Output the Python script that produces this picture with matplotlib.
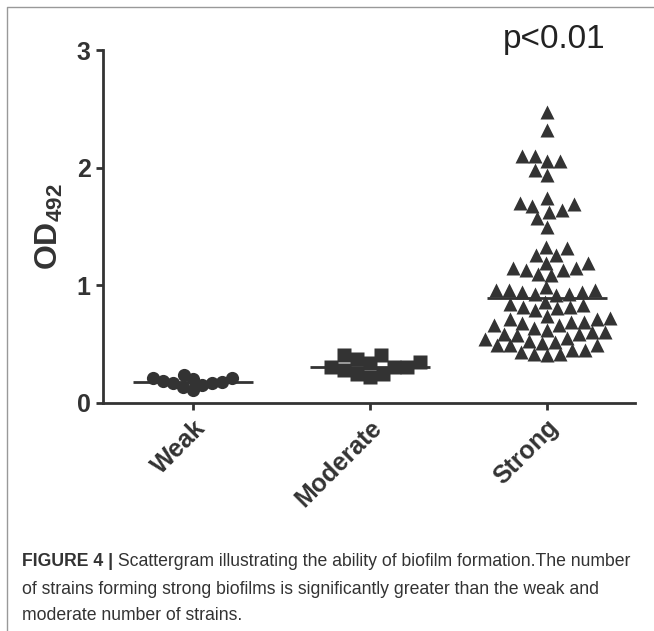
import numpy as np
import matplotlib
matplotlib.use("Agg")
import matplotlib.pyplot as plt
from matplotlib.lines import Line2D

# valeurs (DO492)
groups = ["Weak", "Moderate", "Strong"]
weak = [0.18, 0.24, 0.17, 0.21, 0.11, 0.20, 0.17, 0.21, 0.15, 0.14, 0.19]
moderate = [0.35, 0.31, 0.41, 0.25, 0.31, 0.41, 0.22, 0.31, 0.25, 0.34, 0.37, 0.28]
strong = [2.47, 2.32, 2.06, 2.10, 2.06, 2.10, 1.98, 1.94, 1.74, 1.64, 1.69, 1.70,
          1.62, 1.67, 1.57, 1.50, 1.32, 1.33, 1.26, 1.26, 1.13, 1.15, 1.19, 1.15,
          1.19, 1.13, 1.09, 1.10,
          0.99, 0.96, 0.96, 0.96, 0.94, 0.94, 0.93, 0.93, 0.92,
          0.86, 0.84, 0.82, 0.82, 0.81, 0.83, 0.79,
          0.74, 0.72, 0.71, 0.71, 0.69, 0.69, 0.68, 0.66, 0.66,
          0.64, 0.62, 0.60, 0.60, 0.59, 0.59, 0.58,
          0.55, 0.54, 0.53, 0.52, 0.51, 0.49, 0.49, 0.49,
          0.45, 0.45, 0.43, 0.42, 0.42, 0.41]
yticks = [0, 1, 2, 3]
p_text = "p<0.01"
caption_bold = "FIGURE 4 |"
caption_lines = [" Scattergram illustrating the ability of biofilm formation.The number",
                 "of strains forming strong biofilms is significantly greater than the weak and",
                 "moderate number of strains."]

dark = "#333333"
plt.rcParams["font.family"] = ["Liberation Sans", "DejaVu Sans"]
plt.rcParams["mathtext.fontset"] = "custom"
plt.rcParams["mathtext.bf"] = "Liberation Sans:bold"
plt.rcParams["mathtext.rm"] = "Liberation Sans:bold"


def swarm(ax, xc, vals, gap):
    """répartition horizontale des points (pas de chevauchement > gap pixels)"""
    pts = ax.transData.transform(np.column_stack([np.full(len(vals), xc), vals]))
    cx = pts[0, 0]
    ys = pts[:, 1]
    xs = np.full(len(vals), cx)
    placed = []
    cand = sorted(range(-90, 91), key=lambda d: (abs(d), d))
    for i in np.argsort(ys):
        for d in cand:
            if all((cx + d - px) ** 2 + (ys[i] - py) ** 2 >= gap ** 2 for px, py in placed):
                break
        xs[i] = cx + d
        placed.append((xs[i], ys[i]))
    return ax.transData.inverted().transform(np.column_stack([xs, ys]))[:, 0]


W, H = 654, 631
fig = plt.figure(figsize=(W / 100, H / 100), dpi=100)
ax = fig.add_axes([103 / W, 1 - 403 / H, (635 - 103) / W, (403 - 50) / H])
ax.set_xlim(0.49, 3.5)
ax.set_ylim(0, 3)

series = [(weak, "o", 9.5, 10), (moderate, "s", 10, 13), (strong, "^", 10, 12.5)]
for k, (vals, mk, ms, gap) in enumerate(series):
    xc = k + 1
    xs = swarm(ax, xc, vals, gap)
    ax.plot(xs, vals, linestyle="none", marker=mk, ms=ms, color=dark, mec="none", zorder=2, clip_on=False)
    med = np.median(vals)
    ax.plot([xc - 0.34, xc + 0.34], [med, med], color=dark, lw=2, zorder=3, solid_capstyle="butt")

for s in ["top", "right"]:
    ax.spines[s].set_visible(False)
for s in ["left", "bottom"]:
    ax.spines[s].set_linewidth(2)
    ax.spines[s].set_color(dark)

ax.set_yticks(yticks)
ax.set_yticklabels([str(v) for v in yticks], fontsize=18, fontweight="bold", color=dark)
ax.set_xticks([1, 2, 3])
ax.set_xticklabels(groups, fontsize=18, fontweight="bold", color=dark,
                   rotation=45, ha="right", va="top", rotation_mode="anchor")
ax.tick_params(axis="both", direction="out", width=2, length=5, color=dark, pad=4)
ax.set_ylabel(r"$\mathbf{OD}_{\mathbf{492}}$", fontsize=23, color=dark, labelpad=8)

ax.text(3.045, 3.02, p_text, fontsize=24, color="#222222", ha="center", va="baseline")

# cadre gris haut et gauche
fig.add_artist(Line2D([7 / W, 7 / W, 1], [0, 1 - 7 / H, 1 - 7 / H], color="#999999", lw=1))

# légende de la figure
renderer = fig.canvas.get_renderer()
size = 13
tb = fig.text(22 / W, 1 - 562 / H, caption_bold, fontsize=size, fontweight="bold", color=dark, va="center")
tr = fig.text(0, 1 - 562 / H, caption_lines[0], fontsize=size, color=dark, va="center")
wb = tb.get_window_extent(renderer).width
wr = tr.get_window_extent(renderer).width
size = size * 610 / (wb + wr)
tb.set_fontsize(size)
tr.set_fontsize(size)
wb = tb.get_window_extent(renderer).width
tr.set_x((22 + wb) / W)
for line, py in zip(caption_lines[1:], [590, 616]):
    fig.text(22 / W, 1 - py / H, line, fontsize=size, color=dark, va="center")

fig.savefig("out.png", dpi=100)
